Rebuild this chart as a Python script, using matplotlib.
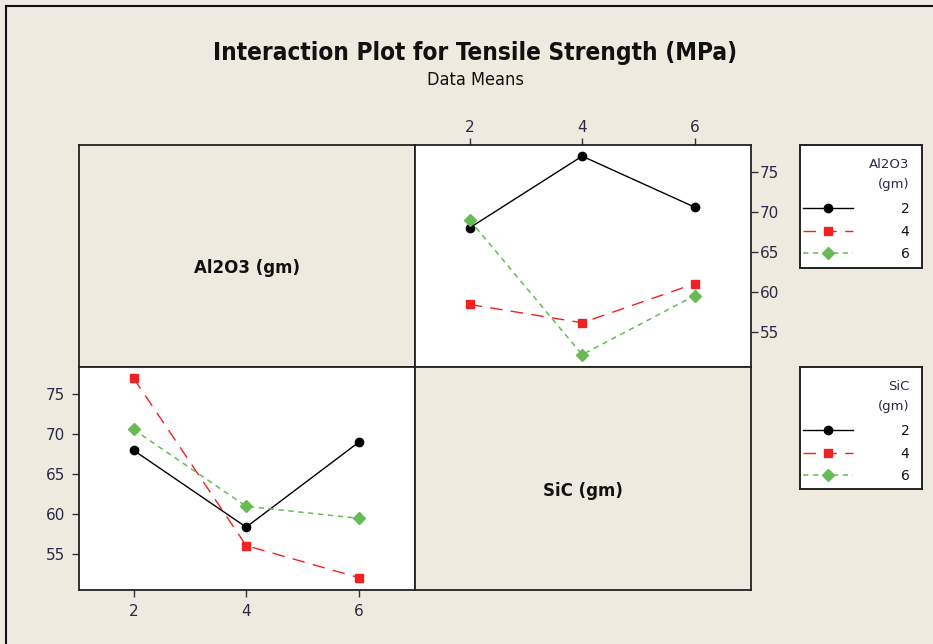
import matplotlib
matplotlib.use("Agg")
import matplotlib.pyplot as plt
from matplotlib.lines import Line2D
import numpy as np

# ---- data (cell means: rows = Al2O3 level, cols = SiC level) ----
levels = [2, 4, 6]
al2o3_2 = [68.0, 77.0, 70.6]   # Al2O3 = 2, at SiC = 2,4,6
al2o3_4 = [58.4, 56.1, 61.0]   # Al2O3 = 4
al2o3_6 = [69.0, 52.1, 59.5]   # Al2O3 = 6
y_ticks = [55, 60, 65, 70, 75]
level_labels = ["2", "4", "6"]

title = "Interaction Plot for Tensile Strength (MPa)"
subtitle = "Data Means"

cells = np.array([al2o3_2, al2o3_4, al2o3_6])

bg = "#EEEAE0"
tick_col = "#2a2a44"
styles = [
    dict(color="black", marker="o", linestyle="-", lw=1.0, ms=6),
    dict(color="#EE2222", marker="s", linestyle=(0, (9, 6)), lw=1.0, ms=5.5),
    dict(color="#66BB55", marker="D", linestyle=(0, (3.5, 3)), lw=1.1, ms=6),
]

W, H = 933, 644
fig = plt.figure(figsize=(W / 100, H / 100), dpi=100, facecolor=bg)

L, M, R = 79 / W, 415 / W, 751 / W
B, Mid, T = 1 - 590 / H, 1 - 367 / H, 1 - 145 / H

ylim = (50.55, 78.4)
xlim = (1.03, 7.0)

ax_tl = fig.add_axes([L, Mid, M - L, T - Mid], facecolor=bg)
ax_tr = fig.add_axes([M, Mid, R - M, T - Mid], facecolor="white")
ax_bl = fig.add_axes([L, B, M - L, Mid - B], facecolor="white")
ax_br = fig.add_axes([M, B, R - M, Mid - B], facecolor=bg)

for ax in (ax_tl, ax_br):
    ax.set_xticks([])
    ax.set_yticks([])
for ax in (ax_tl, ax_tr, ax_bl, ax_br):
    for s in ax.spines.values():
        s.set_color("#222222")
        s.set_linewidth(1.3)

ax_tl.text(0.5, 0.445, "Al2O3 (gm)", transform=ax_tl.transAxes, ha="center",
           va="center", fontsize=12, fontweight="bold", color="#111111")
ax_br.text(0.5, 0.445, "SiC (gm)", transform=ax_br.transAxes, ha="center",
           va="center", fontsize=12, fontweight="bold", color="#111111")

# top-right: x = SiC, lines = Al2O3 levels
h_tr = []
for i, lev in enumerate(levels):
    ln, = ax_tr.plot(levels, cells[i, :], **styles[i])
    h_tr.append(ln)
# bottom-left: x = Al2O3, lines = SiC levels
h_bl = []
for j, lev in enumerate(levels):
    ln, = ax_bl.plot(levels, cells[:, j], **styles[j])
    h_bl.append(ln)

for ax in (ax_tr, ax_bl):
    ax.set_xlim(*xlim)
    ax.set_ylim(*ylim)
    ax.set_xticks(levels)
    ax.set_xticklabels(level_labels)
    ax.set_yticks(y_ticks)
    ax.tick_params(direction="out", length=5, width=1, labelsize=11,
                   labelcolor=tick_col, color="#333333", pad=5)

ax_tr.xaxis.tick_top()
ax_tr.yaxis.tick_right()
ax_tr.tick_params(axis="y", pad=1.5)
ax_tr.tick_params(axis="x", pad=2.5)

# title
fig.text(475 / W, 1 - 53 / H, title, ha="center", va="center",
         fontsize=17.5, fontweight="bold", color="#111111",
         fontstretch="condensed")
fig.text(475 / W, 1 - 80 / H, subtitle, ha="center", va="center",
         fontsize=13, color="#111111", fontstretch="condensed")

# legends
def make_legend(rect, handles, title_txt):
    lax = fig.add_axes(rect, facecolor="white")
    lax.set_xticks([])
    lax.set_yticks([])
    for s in lax.spines.values():
        s.set_color("#222222")
        s.set_linewidth(1.4)
    leg = lax.legend(handles, level_labels, loc="upper right", frameon=False,
                     title=title_txt, alignment="right", fontsize=10,
                     title_fontsize=9.5, handlelength=3.6, handletextpad=3.4,
                     labelspacing=0.62, borderaxespad=0.5,
                     borderpad=0.4)
    leg.get_title().set_color(tick_col)
    leg.get_title().set_linespacing(1.75)
    leg.get_title().set_ha("right")
    leg._legend_box.sep = 8
    for t in leg.get_texts():
        t.set_color("#111111")
    return lax

make_legend([800 / W, 1 - 268 / H, 122 / W, 123 / H], h_tr, "Al2O3\n(gm)")
make_legend([800 / W, 1 - 489 / H, 122 / W, 122 / H], h_bl, "SiC\n(gm)")

# outer frame lines
fig.add_artist(Line2D([6 / W, 6 / W], [0, 1 - 6 / H], color="#111111",
                      lw=1.5, transform=fig.transFigure))
fig.add_artist(Line2D([6 / W, 1], [1 - 6 / H, 1 - 6 / H], color="#111111",
                      lw=1.5, transform=fig.transFigure))

fig.savefig("out.png", dpi=100, facecolor=bg)
